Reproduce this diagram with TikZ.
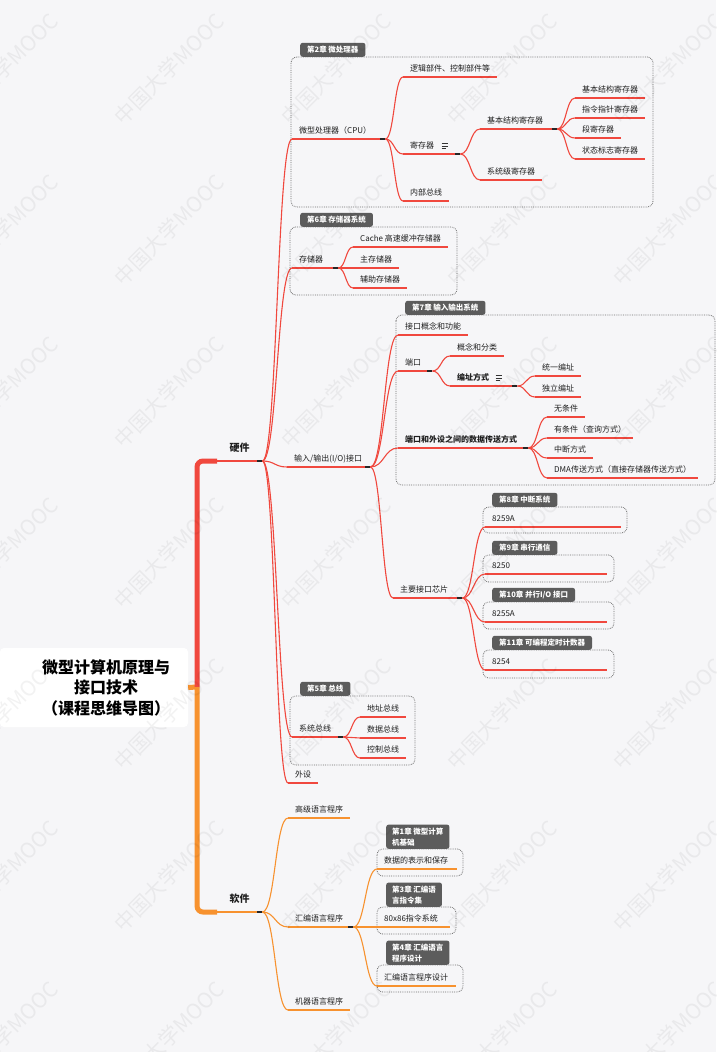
\documentclass[tikz,border=0pt]{standalone}
\usepackage{fontspec}
\setmainfont{Noto Sans CJK SC}
\usepackage{tikz}
\usetikzlibrary{calc,positioning}
\definecolor{BgGray}{HTML}{F6F6F8}
\definecolor{HwRed}{HTML}{F0483E}
\definecolor{SwOrange}{HTML}{F7922F}
\definecolor{TagGray}{HTML}{5C5C5C}
\definecolor{InkDark}{HTML}{1F1F1F}
\definecolor{FrameGray}{HTML}{6E6E6E}
\newcommand{\noteicon}{\tikz[x=1pt,y=1pt,baseline=0pt]{\draw[black!80,line width=0.7pt] (0,5)--(6.5,5) (0,2.9)--(6.5,2.9) (0,0.8)--(4.5,0.8);}}

\begin{document}
\begin{tikzpicture}[x=1pt,y=-1pt,
  topic/.style={anchor=south west, font=\fontsize{8}{9.6}\selectfont, text=InkDark, inner xsep=7pt, inner ysep=3pt, text height=7pt, text depth=2pt},
  tw/.style={text width=#1, align=left},
  major/.style={anchor=south west, font=\fontsize{10}{12}\selectfont\bfseries, text=InkDark, inner xsep=0pt, inner ysep=6pt, text height=8pt, text depth=3pt, minimum width=45pt},
  tag/.style={anchor=south west, fill=TagGray, text=white, font=\fontsize{7.5}{9}\selectfont\bfseries, rounded corners=2.5pt, inner xsep=7pt, inner ysep=3.25pt, text height=6pt, text depth=1.5pt},
  tagtwo/.style={anchor=south west, fill=TagGray, text=white, font=\fontsize{7.5}{11}\selectfont\bfseries, rounded corners=2.5pt, inner xsep=6pt, inner ysep=3pt, align=left},
  frame/.style={draw=FrameGray, densely dotted, line width=0.8pt, rounded corners=6pt},
  hwline/.style={HwRed, line width=1.1pt},
  swline/.style={SwOrange, line width=1.1pt},
  junc/.style={black!85, line width=1.6pt},
  curvy/.style={to path={let \p1=(\tikztostart), \p2=(\tikztotarget) in .. controls ($(\p1)!0.5!(\x2,\y1)$) and ($(\p2)!0.5!(\x1,\y2)$) .. (\p2)}},
  mooc/.style={font=\fontsize{21}{21}\selectfont, rotate=45, text=black, opacity=0.05}]
  \useasboundingbox (0,0) rectangle (716,1052);
  \fill[BgGray] (0,0) rectangle (716,1052);

  % Chapter frames
  \draw[frame] (291,57) rectangle (653,207);
  \draw[frame] (290,227) rectangle (457,295);
  \draw[frame] (396,315) rectangle (715,485);
  \draw[frame] (483,507) rectangle (627,533);
  \draw[frame] (483,555) rectangle (614,582);
  \draw[frame] (483,602) rectangle (614,629);
  \draw[frame] (483,650) rectangle (614,678);
  \draw[frame] (290,696) rectangle (415,765);
  \draw[frame] (377,849) rectangle (463,876);
  \draw[frame] (377,907) rectangle (456,934);
  \draw[frame] (377,965) rectangle (463,992);

  % Chapter tags
  \node[tag] (t2) at (300,57) {第2章 微处理器};
  \node[tag] (t6) at (300,227) {第6章 存储器系统};
  \node[tag] (t7) at (405,315) {第7章 输入输出系统};
  \node[tag] (t8) at (492,507) {第8章 中断系统};
  \node[tag] (t9) at (492,555) {第9章 串行通信};
  \node[tag] (t10) at (492,602) {第10章 并行I/O 接口};
  \node[tag] (t11) at (492,650) {第11章 可编程定时计数器};
  \node[tag] (t5) at (300,696) {第5章 总线};
  \node[tagtwo] (t1) at (386,849) {第1章 微型计算\\机基础};
  \node[tagtwo] (t3) at (386,907) {第3章 汇编语\\言指令集};
  \node[tagtwo] (t4) at (386,965) {第4章 汇编语言\\程序设计};

  % Root and trunk
  \node[fill=white, rounded corners=4pt, minimum width=188pt, minimum height=79pt, inner sep=0pt] (root) at (94,687.5) {};
  \node[font=\fontsize{16}{20.5}\selectfont\bfseries, align=center, text=black] (title) at ([xshift=12pt]root.center) {微型计算机原理与\\接口技术\\（课程思维导图）};
  \node[major] (hw) at (217,461) {硬件};
  \node[major] (sw) at (217,912) {软件};
  \coordinate (stem) at (197,687);
  \draw[SwOrange, line width=5pt] (root.east) -- (stem);
  \draw[HwRed, line width=5pt, rounded corners=6pt] (stem) |- (hw.south west);
  \draw[SwOrange, line width=5pt, rounded corners=6pt] (stem) |- (sw.south west);

  % Hardware topics
  \node[topic, tw=79pt] (cpu) at (292,139) {微型处理器（CPU）};
  \node[topic] (logic) at (403,77) {逻辑部件、控制部件等};
  \node[topic, tw=43pt] (reg) at (403,154) {寄存器\hspace{7pt}\noteicon};
  \node[topic, tw=63pt] (basic) at (480,129) {基本结构寄存器};
  \node[topic] (r1) at (575,98) {基本结构寄存器};
  \node[topic] (r2) at (575,118) {指令指针寄存器};
  \node[topic] (r3) at (575,138) {段寄存器};
  \node[topic] (r4) at (575,159) {状态标志寄存器};
  \node[topic] (sysreg) at (480,180) {系统级寄存器};
  \node[topic] (ibus) at (403,201) {内部总线};

  \node[topic, tw=32pt] (stor) at (292,268) {存储器};
  \node[topic] (cache) at (353,247) {Cache 高速缓冲存储器};
  \node[topic] (mainm) at (353,268) {主存储器};
  \node[topic] (aux) at (353,288) {辅助存储器};

  \node[topic, tw=69pt] (io) at (287,467) {输入/输出(I/O)接口};
  \node[topic] (concept) at (398,335) {接口概念和功能};
  \node[topic, tw=20pt] (port) at (398,371) {端口};
  \node[topic] (cls) at (450,356) {概念和分类};
  \node[topic, tw=53pt, font=\fontsize{8}{9.6}\selectfont\bfseries] (addr) at (450,386) {编址方式\hspace{6pt}\noteicon};
  \node[topic] (uni) at (535,376) {统一编址};
  \node[topic] (ind) at (535,397) {独立编址};
  \node[topic, tw=116pt, font=\fontsize{8}{9.6}\selectfont\bfseries] (xfer) at (398,448) {端口和外设之间的数据传送方式};
  \node[topic] (m1) at (547,417) {无条件};
  \node[topic] (m2) at (547,438) {有条件（查询方式）};
  \node[topic] (m3) at (547,458) {中断方式};
  \node[topic] (m4) at (547,478) {DMA传送方式（直接存储器传送方式）};
  \node[topic, tw=55pt] (chips) at (393,598) {主要接口芯片};
  \node[topic, tw=122pt] (c1) at (485,527) {8259A};
  \node[topic, tw=108pt] (c2) at (485,574) {8250};
  \node[topic, tw=108pt] (c3) at (485,622) {8255A};
  \node[topic, tw=108pt] (c4) at (485,670) {8254};

  \node[topic, tw=37pt] (bus) at (292,737) {系统总线};
  \node[topic] (b1) at (360,717) {地址总线};
  \node[topic] (b2) at (360,738) {数据总线};
  \node[topic] (b3) at (360,758) {控制总线};
  \node[topic] (periph) at (288,783) {外设};

  % Software topics
  \node[topic] (hll) at (288,818) {高级语言程序};
  \node[topic, tw=51pt] (asm) at (288,927) {汇编语言程序};
  \node[topic, tw=66pt] (s1) at (377,869) {数据的表示和保存};
  \node[topic, tw=59pt] (s2) at (377,927) {80x86指令系统};
  \node[topic, tw=65pt] (s3) at (377,986) {汇编语言程序设计};
  \node[topic] (mll) at (288,1010) {机器语言程序};

  % Underlines
  \foreach \n in {hw,cpu,logic,reg,basic,r1,r2,r3,r4,sysreg,ibus,stor,cache,mainm,aux,io,concept,port,cls,addr,uni,ind,xfer,m1,m2,m3,m4,chips,c1,c2,c3,c4,bus,b1,b2,b3,periph}
    \draw[hwline] (\n.south west) -- (\n.south east);
  \foreach \n in {sw,hll,asm,s1,s2,s3,mll}
    \draw[swline] (\n.south west) -- (\n.south east);

  % Branches
  \foreach \p/\c in {hw/cpu,hw/stor,hw/io,hw/bus,hw/periph,cpu/logic,cpu/reg,cpu/ibus,reg/basic,reg/sysreg,basic/r1,basic/r2,basic/r3,basic/r4,stor/cache,stor/mainm,stor/aux,io/concept,io/port,io/xfer,io/chips,port/cls,port/addr,addr/uni,addr/ind,xfer/m1,xfer/m2,xfer/m3,xfer/m4,chips/c1,chips/c2,chips/c3,chips/c4,bus/b1,bus/b2,bus/b3}
    \draw[hwline] (\p.south east) to[curvy] (\c.south west);
  \foreach \p/\c in {sw/hll,sw/asm,sw/mll,asm/s1,asm/s2,asm/s3}
    \draw[swline] (\p.south east) to[curvy] (\c.south west);

  % Junction marks
  \foreach \n in {hw,sw,cpu,reg,basic,stor,io,port,addr,xfer,chips,bus,asm}
    \draw[junc] ([xshift=-5pt]\n.south east) -- (\n.south east);

  % Watermark
  \foreach \x in {3,169,336,502,668}
    \foreach \y in {69,230,392,553,714,876,1037}
      \node[mooc] (wm-\x-\y) at (\x,\y) {中国大学MOOC};
\end{tikzpicture}
\end{document}
